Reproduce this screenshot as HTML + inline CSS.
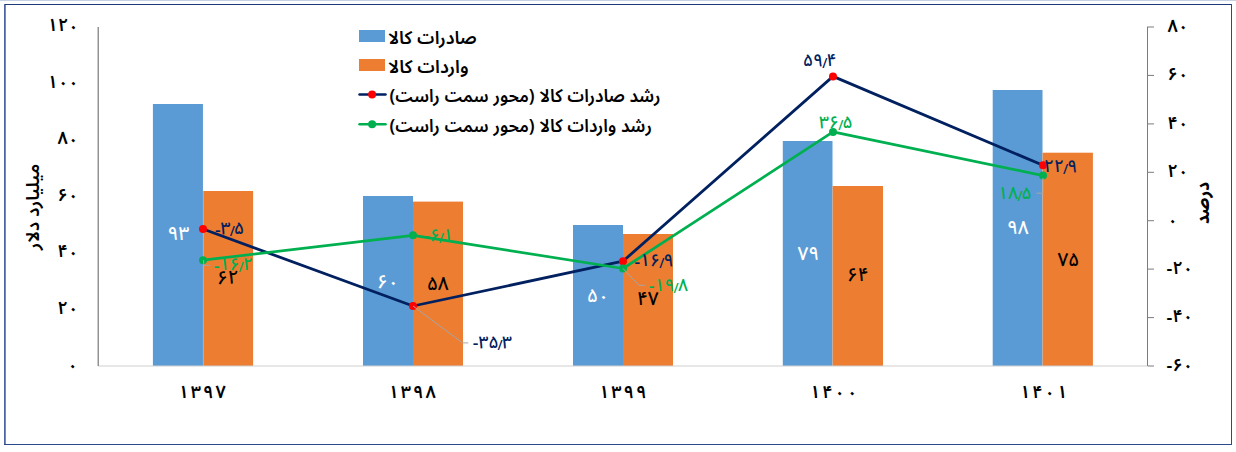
<!DOCTYPE html>
<html lang="fa">
<head>
<meta charset="utf-8">
<style>
html,body{margin:0;padding:0;background:#fff;}
body{width:1236px;height:452px;position:relative;overflow:hidden;}
svg{position:absolute;left:0;top:0;}
.t{position:absolute;white-space:nowrap;font-family:"Noto Sans Arabic","Noto Sans Arabic UI","DejaVu Sans",sans-serif;font-weight:bold;line-height:1;}
/*NCSS*/.n{position:absolute;white-space:nowrap;font-family:"Noto Sans Arabic","Noto Sans Arabic UI","DejaVu Sans",sans-serif;font-weight:600;font-size:18px;line-height:1;direction:ltr;unicode-bidi:isolate;}
.n .s{font-size:13.5px;position:relative;top:2px;margin:0 -0.9px;}
.n .m{position:relative;top:1.5px;}
.n i{display:inline-block;width:2px;}
.n.yr{font-weight:560;}
.n .z{font-weight:inherit;position:relative;top:1.3px;}
.n.ln{font-weight:500;font-size:17.5px;}
.n.bv{font-size:19px;font-weight:500;}/*/NCSS*/
.lg{direction:rtl;font-family:"Noto Sans Arabic UI","Noto Sans Arabic","DejaVu Sans",sans-serif;font-size:18px;font-weight:600;font-stretch:87.5%;color:#000;}
.ttl{direction:rtl;font-family:"Noto Sans Arabic UI","Noto Sans Arabic","DejaVu Sans",sans-serif;font-size:18px;font-weight:600;font-stretch:87.5%;color:#000;}
.w{color:#fff;}
.k{color:#000;}
.nv{color:#002060;}
.gr{color:#00B050;}
</style>
</head>
<body>
<svg width="1236" height="452" viewBox="0 0 1236 452">
  <!-- top cut-off strip -->
  <rect x="0" y="0" width="1236" height="1" fill="#C6D0E5"/>
  <!-- frame -->
  <rect x="4" y="4" width="1228" height="1" fill="#1F3A78"/>
  <rect x="4" y="4" width="1" height="441" fill="#4D66A3"/>
  <rect x="5" y="5" width="1" height="439" fill="#7489BC"/>
  <rect x="1231" y="4" width="1" height="441" fill="#2C4A8A"/>
  <rect x="4" y="444" width="1228" height="1" fill="#2C4A8A"/>

  <!-- bars -->
  <g fill="#5B9BD5">
    <rect x="152.9" y="104" width="50.05" height="262"/>
    <rect x="363" y="196" width="50" height="170"/>
    <rect x="573" y="225" width="50" height="141"/>
    <rect x="782.8" y="141" width="49.7" height="225"/>
    <rect x="992.7" y="90" width="49.8" height="276"/>
  </g>
  <g fill="#ED7D31">
    <rect x="203.25" y="191" width="49.85" height="175"/>
    <rect x="413" y="201.6" width="50" height="164.4"/>
    <rect x="623" y="234" width="50" height="132"/>
    <rect x="832.6" y="186" width="50.4" height="180"/>
    <rect x="1042.6" y="152.7" width="50.3" height="213.3"/>
  </g>

  <!-- axes -->
  <rect x="98" y="365.5" width="1050" height="1" fill="#CFCFCF"/>
  <rect x="97" y="27" width="1" height="339" fill="#C9C9C9"/>
  <rect x="98" y="27" width="1" height="339" fill="#939393"/>
  <rect x="1147" y="26.5" width="1" height="339.5" fill="#7C7C7C"/>
  <g fill="#7C7C7C">
    <rect x="1148" y="26.5" width="6" height="1"/>
    <rect x="1148" y="74.9" width="6" height="1"/>
    <rect x="1148" y="123.4" width="6" height="1"/>
    <rect x="1148" y="171.8" width="6" height="1"/>
    <rect x="1148" y="220.2" width="6" height="1"/>
    <rect x="1148" y="268.6" width="6" height="1"/>
    <rect x="1148" y="317.1" width="6" height="1"/>
    <rect x="1148" y="365.5" width="6" height="1"/>
  </g>


  <!-- lines -->
  <polyline points="203,229 413,306 623,261.2 833,76.4 1043,165.3" fill="none" stroke="#002060" stroke-width="2.8" stroke-linejoin="round"/>
  <polyline points="203,260.2 413,235.3 623,268.5 833,131.9 1043,175.6" fill="none" stroke="#00B050" stroke-width="2.7" stroke-linejoin="round"/>
  <g fill="#FF0000">
    <circle cx="203" cy="229" r="4"/>
    <circle cx="413" cy="306" r="4"/>
    <circle cx="623" cy="261.2" r="4"/>
    <circle cx="833" cy="76.4" r="4"/>
    <circle cx="1043" cy="165.3" r="4"/>
  </g>
  <g fill="#00B050">
    <circle cx="203" cy="260.2" r="4"/>
    <circle cx="413" cy="235.3" r="4"/>
    <circle cx="623" cy="268.5" r="4"/>
    <circle cx="833" cy="131.9" r="4"/>
    <circle cx="1043" cy="175.6" r="4"/>
  </g>

  <!-- leader lines -->
  <g fill="none" stroke="#A6A6A6" stroke-width="1">
    <polyline points="413,306 462.6,342.9 468.3,342.9"/>
    <polyline points="623,268.5 639,285.3 644.8,285.3"/>
    <polyline points="203.5,260 203.8,265.3 210.2,265.3"/>
    <polyline points="1043,178 1043,193.2 1036.5,193.2"/>
  </g>
  <!-- legend symbols -->
  <rect x="359" y="30" width="26" height="12" fill="#5B9BD5"/>
  <rect x="359" y="59" width="26" height="12" fill="#ED7D31"/>
  <line x1="359.5" y1="94.5" x2="385.5" y2="94.5" stroke="#002060" stroke-width="2.5" stroke-linecap="round"/>
  <circle cx="372.1" cy="94.5" r="4" fill="#FF0000"/>
  <line x1="359.5" y1="124.2" x2="385.5" y2="124.2" stroke="#00B050" stroke-width="2.5" stroke-linecap="round"/>
  <circle cx="372.1" cy="124.2" r="4" fill="#00B050"/>
</svg>

<!-- axis titles -->
<div class="t ttl" style="left:-7.05px;top:195.7px;transform-origin:41px 11.5px;transform:rotate(-90deg) scaleX(1.04);font-stretch:100%;">میلیارد دلار</div>
<div class="t ttl" style="left:1186.15px;top:189.7px;transform-origin:20.5px 13.5px;transform:rotate(-90deg);font-weight:700;">درصد</div>
<!-- legend text -->
<div class="t lg" style="left:387.6px;top:28px;transform-origin:0 0;transform:scaleX(1.035);">صادرات کالا</div>
<div class="t lg" style="left:387.6px;top:57px;transform-origin:0 0;transform:scaleX(1.045);">واردات کالا</div>
<div class="t lg" style="left:389.5px;top:86px;">رشد صادرات کالا (محور سمت راست)</div>
<div class="t lg" style="left:389.5px;top:116px;">رشد واردات کالا (محور سمت راست)</div>

<!--LABELS-->
<div class="n k" style="left:47.6px;top:16.4px">۱۲<b class="z">۰</b></div>
<div class="n k" style="left:47.6px;top:73.0px">۱<b class="z">۰</b><b class="z">۰</b></div>
<div class="n k" style="left:57.6px;top:129.4px">۸<b class="z">۰</b></div>
<div class="n k" style="left:57.6px;top:185.9px">۶<b class="z">۰</b></div>
<div class="n k" style="left:57.6px;top:242.4px">۴<b class="z">۰</b></div>
<div class="n k" style="left:57.6px;top:298.9px">۲<b class="z">۰</b></div>
<div class="n k" style="left:67.6px;top:355.4px"><b class="z">۰</b></div>
<div class="n k" style="left:1167.6px;top:16.6px">۸<b class="z">۰</b></div>
<div class="n k" style="left:1167.6px;top:65.0px">۶<b class="z">۰</b></div>
<div class="n k" style="left:1167.6px;top:113.5px">۴<b class="z">۰</b></div>
<div class="n k" style="left:1167.6px;top:161.9px">۲<b class="z">۰</b></div>
<div class="n k" style="left:1167.6px;top:210.3px"><b class="z">۰</b></div>
<div class="n k" style="left:1166.6px;top:258.7px"><span class="m">-</span>۲<b class="z">۰</b></div>
<div class="n k" style="left:1166.6px;top:307.2px"><span class="m">-</span>۴<b class="z">۰</b></div>
<div class="n k" style="left:1166.6px;top:355.6px"><span class="m">-</span>۶<b class="z">۰</b></div>
<div class="n k yr" style="left:178.5px;top:382.8px">۱<i></i>۳<i></i>۹<i></i>۷</div>
<div class="n k yr" style="left:388.5px;top:382.8px">۱<i></i>۳<i></i>۹<i></i>۸</div>
<div class="n k yr" style="left:599.0px;top:382.8px">۱<i></i>۳<i></i>۹<i></i>۹</div>
<div class="n k yr" style="left:810.0px;top:382.8px">۱<i></i>۴<i></i><b class="z">۰</b><i></i><b class="z">۰</b></div>
<div class="n k yr" style="left:1020.0px;top:382.8px">۱<i></i>۴<i></i><b class="z">۰</b><i></i>۱</div>
<div class="n w bv" style="left:167.6px;top:225.4px">۹۳</div>
<div class="n k bv" style="left:217.0px;top:269.1px">۶۲</div>
<div class="n nv ln" style="left:214.9px;top:220.3px"><span class="m">-</span>۳<span class="s">/</span>۵</div>
<div class="n gr ln" style="left:213.8px;top:256.2px"><span class="m">-</span>۱۶<span class="s">/</span>۲</div>
<div class="n w bv" style="left:376.9px;top:272.8px">۶<b class="z">۰</b></div>
<div class="n k bv" style="left:427.0px;top:275.2px">۵۸</div>
<div class="n nv ln" style="left:472.8px;top:333.9px"><span class="m">-</span>۳۵<span class="s">/</span>۳</div>
<div class="n w bv" style="left:587.0px;top:287.1px">۵<b class="z">۰</b></div>
<div class="n k bv" style="left:637.0px;top:290.4px">۴۷</div>
<div class="n nv ln" style="left:634.4px;top:252.2px"><span class="m">-</span>۱۶<span class="s">/</span>۹</div>
<div class="n gr ln" style="left:648.8px;top:276.6px"><span class="m">-</span>۱۹<span class="s">/</span>۸</div>
<div class="n w bv" style="left:797.5px;top:244.8px">۷۹</div>
<div class="n k bv" style="left:847.0px;top:266.3px">۶۴</div>
<div class="n nv ln" style="left:803.0px;top:52.0px">۵۹<span class="s">/</span>۴</div>
<div class="n gr ln" style="left:819.1px;top:113.9px">۳۶<span class="s">/</span>۵</div>
<div class="n w bv" style="left:1007.0px;top:218.8px">۹۸</div>
<div class="n k bv" style="left:1057.5px;top:250.8px">۷۵</div>
<div class="n nv ln" style="left:1043.9px;top:157.9px">۲۲<span class="s">/</span>۹</div>
<div class="n gr ln" style="left:998.0px;top:184.5px">۱۸<span class="s">/</span>۵</div>
<div class="n gr ln" style="left:424.0px;top:226.8px"><span class="m">-</span>۶<span class="s">/</span>۱</div>
<!--/LABELS-->
</body>
</html>
